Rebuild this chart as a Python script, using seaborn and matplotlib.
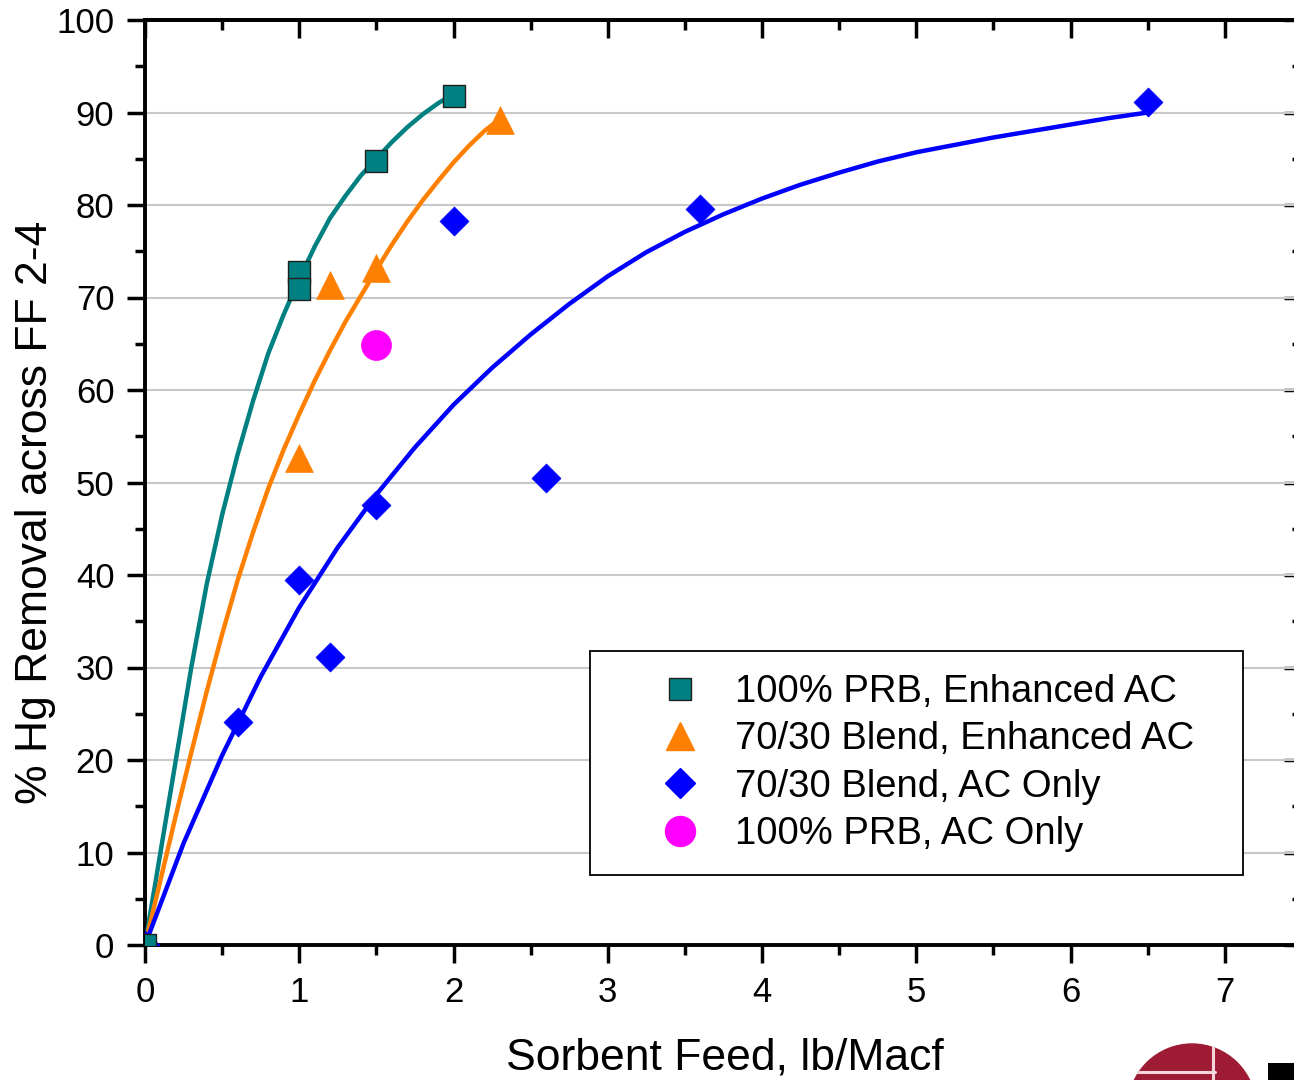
import matplotlib
matplotlib.use("Agg")
import matplotlib.pyplot as plt
from matplotlib.lines import Line2D
from matplotlib.patches import Circle, Rectangle
from matplotlib.ticker import MultipleLocator
import seaborn as sns

# ---- measured points ----
prb_enh_feed = [0.0, 1.0, 1.0, 1.5, 2.0]
prb_enh_removal = [0.0, 72.8, 70.9, 84.8, 91.8]

blend_enh_feed = [1.0, 1.2, 1.5, 2.3]
blend_enh_removal = [52.6, 71.3, 73.2, 89.2]

blend_ac_feed = [0.0, 0.6, 1.0, 1.2, 1.5, 2.0, 2.6, 3.6, 6.5]
blend_ac_removal = [0.0, 24.1, 39.5, 31.1, 47.6, 78.3, 50.5, 79.6, 91.1]

prb_ac_feed = [1.5]
prb_ac_removal = [64.9]

# ---- trend curves ----
prb_enh_fit_feed = [0.0, 0.1, 0.2, 0.3, 0.4, 0.5, 0.6, 0.7, 0.8, 0.9, 1.0,
                    1.1, 1.2, 1.3, 1.4, 1.5, 1.6, 1.7, 1.8, 1.9, 2.0]
prb_enh_fit_removal = [0.0, 10.0, 20.0, 30.0, 39.0, 46.5, 53.0, 58.8, 64.0, 68.2, 72.0,
                       75.5, 78.6, 81.0, 83.2, 85.0, 86.8, 88.4, 89.8, 91.0, 92.0]

blend_enh_fit_feed = [0.0, 0.1, 0.2, 0.3, 0.4, 0.5, 0.6, 0.7, 0.8, 0.9, 1.0, 1.1,
                      1.2, 1.3, 1.4, 1.5, 1.6, 1.7, 1.8, 1.9, 2.0, 2.1, 2.2, 2.3]
blend_enh_fit_removal = [0.0, 7.0, 14.0, 20.8, 27.4, 33.6, 39.4, 44.6, 49.4, 53.6, 57.4, 61.0,
                         64.3, 67.4, 70.2, 73.0, 75.7, 78.2, 80.5, 82.6, 84.6, 86.4, 88.0, 89.3]

blend_ac_fit_feed = [0.0, 0.25, 0.5, 0.75, 1.0, 1.25, 1.5, 1.75, 2.0, 2.25, 2.5, 2.75,
                     3.0, 3.25, 3.5, 3.75, 4.0, 4.25, 4.5, 4.75, 5.0, 5.25, 5.5,
                     5.75, 6.0, 6.25, 6.5]
blend_ac_fit_removal = [0.0, 11.0, 20.5, 29.0, 36.5, 43.0, 48.7, 53.8, 58.4, 62.4, 66.0, 69.3,
                        72.3, 74.9, 77.1, 79.0, 80.7, 82.2, 83.5, 84.7, 85.7, 86.5, 87.3,
                        88.0, 88.7, 89.4, 90.0]

x_ticks = [0, 1, 2, 3, 4, 5, 6, 7]
y_ticks = [0, 10, 20, 30, 40, 50, 60, 70, 80, 90, 100]

series_labels = ["100% PRB, Enhanced AC", "70/30 Blend, Enhanced AC",
                 "70/30 Blend, AC Only", "100% PRB, AC Only"]

TEAL = "#008080"
ORANGE = "#FF8000"
BLUE = "#0000FF"
MAGENTA = "#FF00FF"

sns.set_style("white")
plt.rcParams["font.family"] = ["Liberation Sans", "DejaVu Sans"]
plt.rcParams.update({"text.color": "black", "axes.labelcolor": "black",
                     "xtick.color": "black", "ytick.color": "black"})

W, H = 1294, 1080
fig = plt.figure(figsize=(W / 100, H / 100), dpi=100)
# plot frame: x 0 -> 7.5 spans px 145..1302, y 0 -> 100 spans px 945..20
ax = fig.add_axes([145 / W, (H - 945) / H, (1302 - 145) / W, (945 - 20) / H])

# trend curves
for fx, fy, col in [(prb_enh_fit_feed, prb_enh_fit_removal, TEAL),
                    (blend_enh_fit_feed, blend_enh_fit_removal, ORANGE),
                    (blend_ac_fit_feed, blend_ac_fit_removal, BLUE)]:
    sns.lineplot(x=fx, y=fy, ax=ax, color=col, linewidth=3.2, estimator=None,
                 sort=False, legend=False, zorder=3, solid_joinstyle="round",
                 solid_capstyle="round")

# measured points
sns.scatterplot(x=blend_ac_feed, y=blend_ac_removal, ax=ax, marker="D", s=218,
                color=BLUE, edgecolor=BLUE, linewidth=0.5, legend=False, zorder=4)
sns.scatterplot(x=blend_enh_feed, y=blend_enh_removal, ax=ax, marker="^", s=400,
                color=ORANGE, edgecolor=ORANGE, linewidth=0.5, legend=False, zorder=4)
sns.scatterplot(x=prb_ac_feed, y=prb_ac_removal, ax=ax, marker="o", s=466,
                color=MAGENTA, edgecolor=MAGENTA, linewidth=0.5, legend=False, zorder=4)
sns.scatterplot(x=prb_enh_feed, y=prb_enh_removal, ax=ax, marker="s", s=250,
                color=TEAL, edgecolor="#202020", linewidth=1.0, legend=False, zorder=5)

ax.set_xlim(0, 7.5)
ax.set_ylim(0, 100)
ax.set_xticks(x_ticks)
ax.set_yticks(y_ticks)
ax.xaxis.set_minor_locator(MultipleLocator(0.5))
ax.yaxis.set_minor_locator(MultipleLocator(5))

ax.yaxis.grid(True, which="major", color="#c8c8c8", linewidth=1.5)
ax.xaxis.grid(False)
ax.set_axisbelow(True)

for sp in ax.spines.values():
    sp.set_linewidth(2.8)
    sp.set_color("black")

ax.tick_params(which="major", direction="out", length=13, width=2.5,
               labelsize=25, colors="black")
ax.tick_params(which="minor", direction="out", length=7, width=2.5)
ax.tick_params(axis="y", which="major", pad=9)
ax.tick_params(axis="x", which="major", pad=9)
ax.tick_params(bottom=True, left=True, top=False, right=False, which="both")

# mirrored ticks on top and right, pointing inward
secx = ax.secondary_xaxis("top")
secx.xaxis.set_major_locator(MultipleLocator(1))
secx.xaxis.set_minor_locator(MultipleLocator(0.5))
secx.tick_params(which="major", direction="in", length=13, width=2.5, labeltop=False)
secx.tick_params(which="minor", direction="in", length=7, width=2.5)
secx.spines["top"].set_linewidth(2.8)

secy = ax.secondary_yaxis("right")
secy.yaxis.set_major_locator(MultipleLocator(10))
secy.yaxis.set_minor_locator(MultipleLocator(5))
secy.tick_params(which="major", direction="in", length=13, width=2.5, labelright=False)
secy.tick_params(which="minor", direction="in", length=7, width=2.5)
secy.spines["right"].set_linewidth(2.8)

ax.set_xlabel("Sorbent Feed, lb/Macf", fontsize=32)
ax.set_ylabel("% Hg Removal across FF 2-4", fontsize=32)
ax.xaxis.set_label_coords((725 - 145) / (1302 - 145), -(1058 - 945) / 925)
ax.xaxis.label.set_va("center")
ax.yaxis.set_label_coords((35 - 145) / (1302 - 145), (945 - 512) / 925)
ax.yaxis.label.set_va("center")

handles = [
    Line2D([], [], linestyle="none", marker="s", markersize=15.8,
           markerfacecolor=TEAL, markeredgecolor="#202020", markeredgewidth=1.0),
    Line2D([], [], linestyle="none", marker="^", markersize=20,
           markerfacecolor=ORANGE, markeredgecolor=ORANGE),
    Line2D([], [], linestyle="none", marker="D", markersize=14.8,
           markerfacecolor=BLUE, markeredgecolor=BLUE),
    Line2D([], [], linestyle="none", marker="o", markersize=21.6,
           markerfacecolor=MAGENTA, markeredgecolor=MAGENTA),
]
leg = ax.legend(handles, series_labels, loc="upper left",
                bbox_to_anchor=(590 / W, (H - 869) / H, 653 / W, 218 / H),
                bbox_transform=fig.transFigure, mode="expand", borderaxespad=0,
                fontsize=27.5, frameon=True, fancybox=False, framealpha=1,
                edgecolor="black", borderpad=0.6, labelspacing=0.3,
                handlelength=3.5, handletextpad=-0.31, numpoints=1)
leg.get_frame().set_linewidth(1.3)

# emblem in the lower right corner
emblem = Circle((11.92, -0.28), 0.647, transform=fig.dpi_scale_trans,
                facecolor="#9e1b34", edgecolor="none")
fig.add_artist(emblem)
for xs, ys in [([11.25, 12.15], [0.08, 0.08]), ([12.13, 12.13], [0.40, -0.2])]:
    ln = Line2D(xs, ys, transform=fig.dpi_scale_trans, color="#f3d6dc", linewidth=2.2)
    fig.add_artist(ln)
    ln.set_clip_path(emblem)
fig.add_artist(Rectangle((12.68, 0.0), 0.3, 0.17, transform=fig.dpi_scale_trans,
                         facecolor="black", edgecolor="none"))

fig.savefig("out.png", dpi=100)
